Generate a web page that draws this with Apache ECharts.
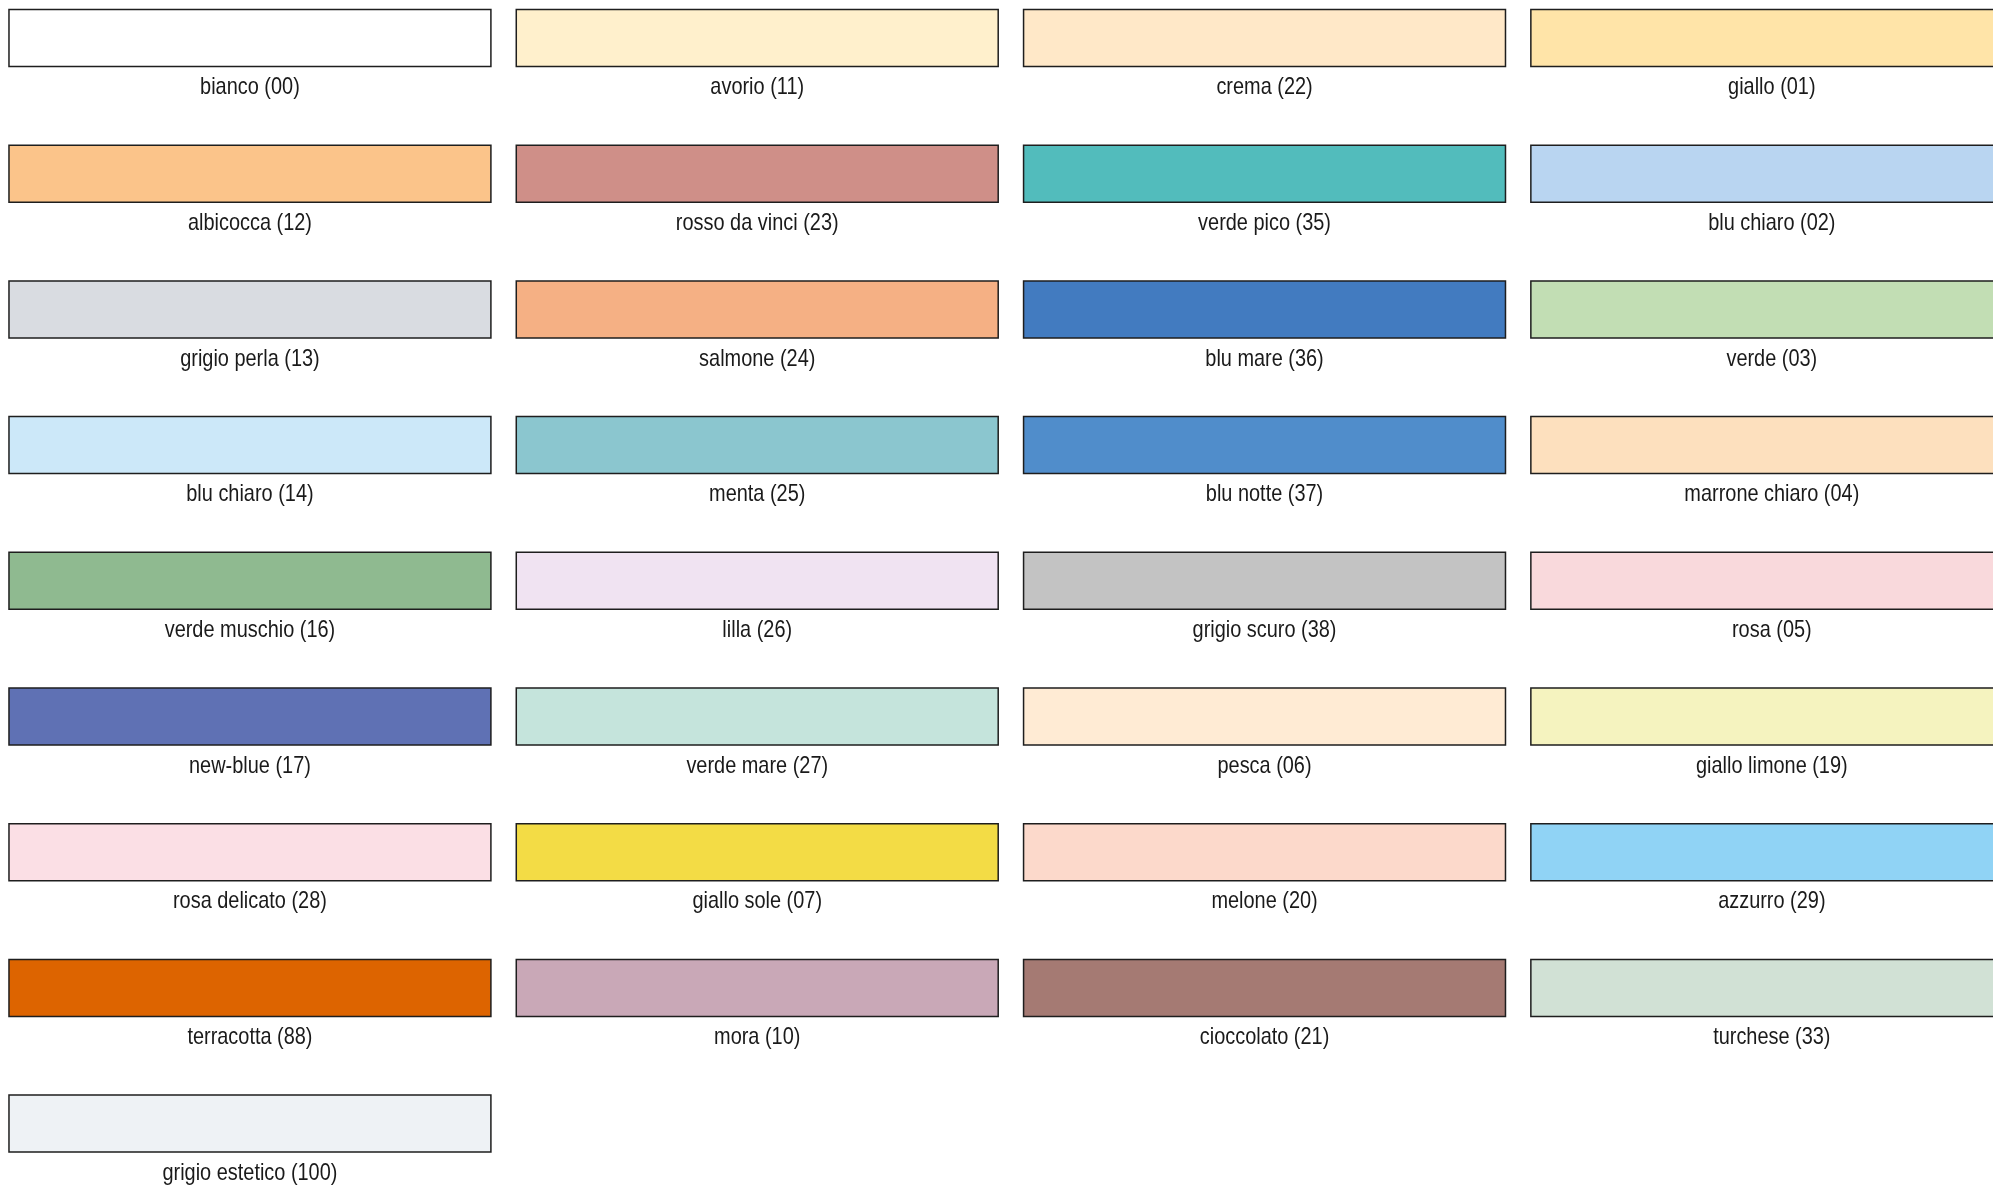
<!DOCTYPE html>
<html>
<head>
<meta charset="utf-8">
<script src="https://cdn.jsdelivr.net/npm/echarts@6/dist/echarts.min.js"></script>
<style>
  html, body { margin: 0; padding: 0; background: #fff; }
  #chart { width: 1993px; height: 1189px; }
</style>
</head>
<body>
<div id="chart"></div>
<script>
// colour names, codes and swatch colours, row by row (4 per row)
const names = [
  'bianco', 'avorio', 'crema', 'giallo',
  'albicocca', 'rosso da vinci', 'verde pico', 'blu chiaro',
  'grigio perla', 'salmone', 'blu mare', 'verde',
  'blu chiaro', 'menta', 'blu notte', 'marrone chiaro',
  'verde muschio', 'lilla', 'grigio scuro', 'rosa',
  'new-blue', 'verde mare', 'pesca', 'giallo limone',
  'rosa delicato', 'giallo sole', 'melone', 'azzurro',
  'terracotta', 'mora', 'cioccolato', 'turchese',
  'grigio estetico'
];
const codes = [
  '00', '11', '22', '01',
  '12', '23', '35', '02',
  '13', '24', '36', '03',
  '14', '25', '37', '04',
  '16', '26', '38', '05',
  '17', '27', '06', '19',
  '28', '07', '20', '29',
  '88', '10', '21', '33',
  '100'
];
const colors = [
  '#ffffff', '#fff0cc', '#ffe8c8', '#ffe4a8',
  '#fbc48a', '#cf8f88', '#52bcbc', '#b9d5f1',
  '#d9dce1', '#f5b084', '#427bc0', '#c2deb4',
  '#cce8f9', '#8bc6cf', '#508dcb', '#fde0be',
  '#8fba90', '#f0e3f2', '#c3c3c3', '#f9d9dc',
  '#5f71b4', '#c5e4dc', '#ffebd4', '#f5f3bf',
  '#fbdfe5', '#f3dc45', '#fcd9cb', '#90d3f5',
  '#dd6400', '#c9a8b7', '#a57a73', '#d1e1d5',
  '#eef2f5'
];
const perRow = 4;

const data = names.map((n, i) => ({
  value: [i % perRow, Math.floor(i / perRow)],
  name: n + ' (' + codes[i] + ')',
  itemStyle: { color: colors[i] }
}));

const chart = echarts.init(document.getElementById('chart'));
chart.setOption({
  animation: false,
  grid: { left: 0, right: 0, top: 0, bottom: 0 },
  // one unit = one column / one row; the last column runs past the right edge
  xAxis: { type: 'value', min: -0.0177, max: 3.911, show: false },
  yAxis: { type: 'value', min: -0.07, max: 8.692, inverse: true, show: false },
  series: [{
    type: 'custom',
    clip: false,
    data: data,
    renderItem: function (params, api) {
      const col = api.value(0), row = api.value(1);
      const tl = api.coord([col, row]);
      const br = api.coord([col + 0.95, row + 0.42]);
      const mid = api.coord([col + 0.475, row + 0.5755]);
      return {
        type: 'group',
        children: [{
          type: 'rect',
          shape: { x: tl[0], y: tl[1], width: br[0] - tl[0], height: br[1] - tl[1] },
          style: { fill: api.visual('color'), stroke: '#1e1e1e', lineWidth: 1.5 }
        }, {
          type: 'text',
          x: mid[0], y: mid[1],
          scaleX: 0.83,
          style: {
            text: data[params.dataIndex].name,
            fill: '#1a1a1a',
            fontFamily: '"Liberation Sans", Arial, sans-serif',
            fontSize: 24,
            align: 'center',
            verticalAlign: 'middle'
          }
        }]
      };
    }
  }]
});
</script>
</body>
</html>
